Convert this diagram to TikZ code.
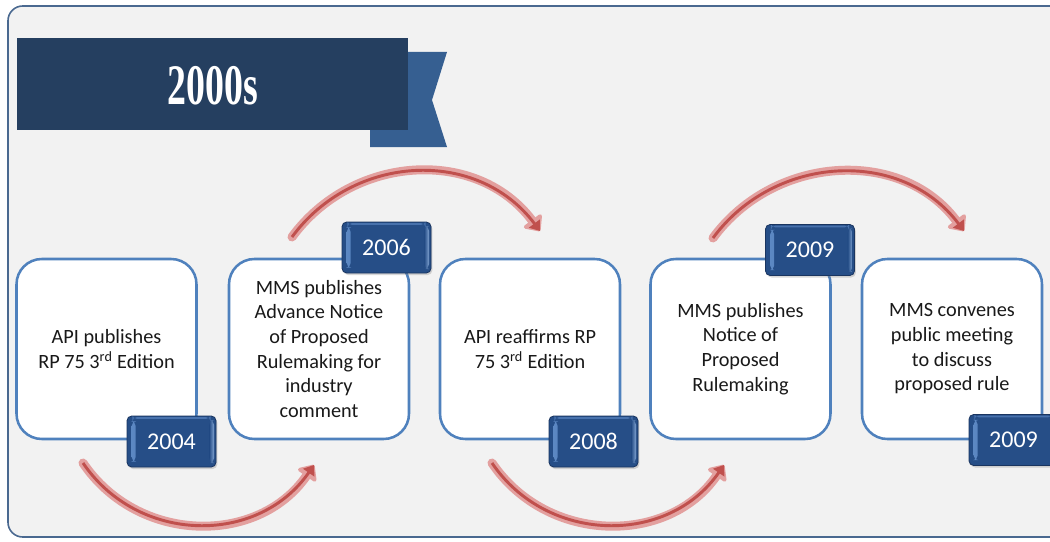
\documentclass[tikz,border=0pt]{standalone}
\usepackage{fontspec}
\setmainfont{Carlito}
\newfontfamily\titlefont{Liberation Serif}
\usetikzlibrary{arrows.meta,shadows}
\definecolor{panelfill}{HTML}{F2F2F2}
\definecolor{panelline}{HTML}{4A6990}
\definecolor{bannerdark}{HTML}{253F60}
\definecolor{bannertail}{HTML}{365F91}
\definecolor{boxline}{HTML}{4F81BD}
\definecolor{tagblue}{HTML}{264E87}
\definecolor{tagdark}{HTML}{1A3560}
\definecolor{tagbevel}{HTML}{5F8BC6}
\definecolor{arrowpink}{HTML}{E3A09F}
\definecolor{arrowred}{HTML}{C0504D}
\tikzset{
  eventbox/.style={draw=boxline, fill=white, line width=1.9pt, rounded corners=19pt,
    minimum width=135pt, minimum height=135pt, inner sep=0pt, align=center,
    font=\fontsize{15.2}{18.5}\selectfont, text=black!90},
  yeartag/.style={rounded corners=3.5pt, fill=tagblue, draw=tagdark, line width=0.6pt,
    minimum width=66.75pt, minimum height=38.25pt, inner sep=0pt, text=white,
    font=\fontsize{18}{20}\selectfont,
    drop shadow={opacity=0.3, shadow xshift=1pt, shadow yshift=-1.5pt},
    path picture={
      \shade[left color=tagbevel, right color=tagblue]
        ([xshift=3.5pt,yshift=-4pt]path picture bounding box.north west)
        rectangle ([xshift=6.5pt,yshift=4pt]path picture bounding box.south west);
      \shade[left color=tagblue, right color=tagbevel!80!white]
        ([xshift=-5pt,yshift=-3pt]path picture bounding box.north east)
        rectangle ([xshift=-1.5pt,yshift=3pt]path picture bounding box.south east);
      \fill[tagbevel!60!tagblue] ([xshift=4pt,yshift=-0.8pt]path picture bounding box.north west)
        rectangle ([xshift=-4pt,yshift=-2.2pt]path picture bounding box.north east);
    }},
  arrowout/.style={draw=arrowpink, line width=6.75pt, line cap=round,
    -{Triangle[length=11pt,width=19pt,line join=round]}},
  arrowin/.style={draw=arrowred, line width=2.2pt,
    -{Triangle[length=7pt,width=10pt]}},
}
\begin{document}
\begin{tikzpicture}[x=0.75pt,y=-0.75pt]
\useasboundingbox (0,0) rectangle (1050,542);
\begin{scope}
\clip (0,0) rectangle (1050,542);
\fill[panelfill] (8,6) [rounded corners=11pt] -- (1100,6) -- (1100,537) -- (8,537) -- cycle;
\draw[draw=panelline, line width=1.2pt, rounded corners=11pt] (1100,6) -- (8,6) -- (8,537) -- (1100,537);
\end{scope}
% banner
\fill[bannertail] (370,52) -- (447,52) -- (432,100) -- (447,147) -- (370,147) -- cycle;
\fill[bannerdark] (17,38) rectangle (408,130);
\node[text=white, font=\titlefont\bfseries\fontsize{43}{45}\selectfont] (title) at (213,86) {\scalebox{0.66}[1]{2000s}};
% boxes
\node[eventbox] (b1) at (106.5,349) {API publishes\\RP 75 3\textsuperscript{rd} Edition};
\node[eventbox] (b2) at (319,349) {MMS publishes\\Advance Notice\\of Proposed\\Rulemaking for\\industry\\comment};
\node[eventbox] (b3) at (530,349) {API reaffirms RP\\75 3\textsuperscript{rd} Edition};
\node[eventbox] (b4) at (740.5,349) {MMS publishes\\Notice of\\Proposed\\Rulemaking};
\node[eventbox] (b5) at (952,349) {MMS convenes\\public meeting\\to discuss\\proposed rule};
% tags
\node[yeartag] (t1) at (171.5,441.5) {2004};
\node[yeartag] (t2) at (386.5,247.5) {2006};
\node[yeartag] (t3) at (593.5,441.5) {2008};
\node[yeartag] (t4) at (810,250) {2009};
\node[yeartag] (t5) at (1013.5,440) {2009};
% arrows
\coordinate (a1s) at (83,463);  \coordinate (a1e) at (314,465);
\coordinate (a2s) at (292,237); \coordinate (a2e) at (540,231);
\coordinate (a3s) at (492,463); \coordinate (a3e) at (724,465);
\coordinate (a4s) at (713,238); \coordinate (a4e) at (964,231);
\foreach \s/\e/\ca/\cb in {a1s/a1e/{(138,544)}/{(258,546)}, a3s/a3e/{(547,544)}/{(668,546)},
                           a2s/a2e/{(353,154)}/{(477,147)}, a4s/a4e/{(774,155)}/{(901,147)}}{
  \draw[arrowout] (\s) .. controls \ca and \cb .. (\e);
  \draw[arrowin] (\s) .. controls \ca and \cb .. (\e);
}
\end{tikzpicture}
\end{document}
